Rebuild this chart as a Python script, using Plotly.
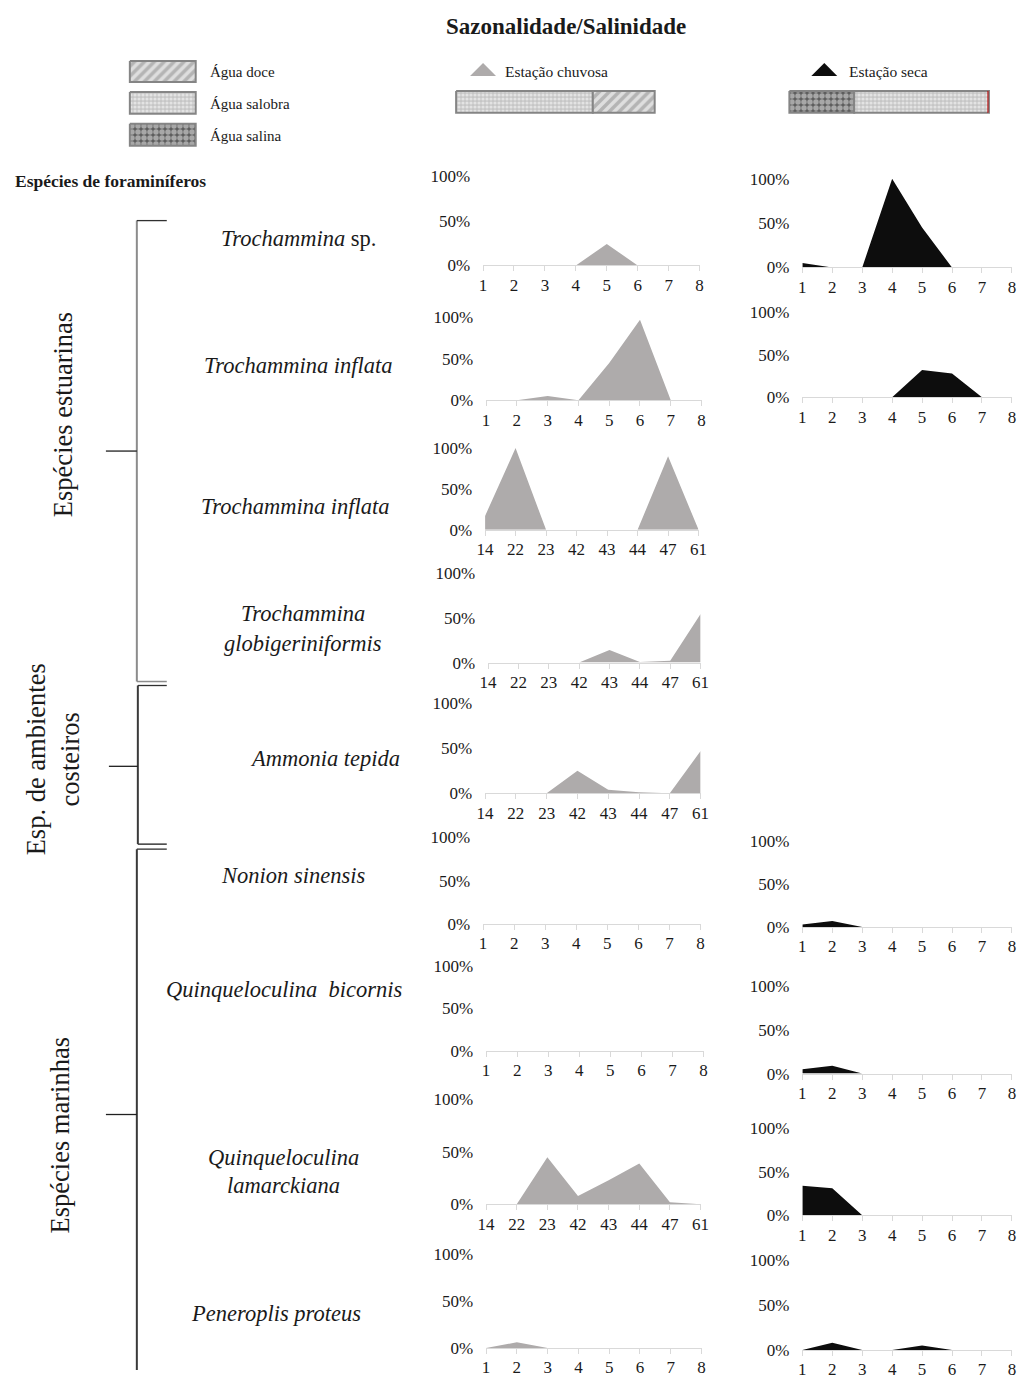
import plotly.graph_objects as go

# Figura 1024x1380; a página acrescenta 8 px de margem e é reduzida para caber na janela
W, H = 1024, 1380
BORDA = 8
SX = (W + 2 * BORDA) / W
SY = (H + 2 * BORDA) / H

# Categorias dos eixos x
estacoes = ["1", "2", "3", "4", "5", "6", "7", "8"]
pontos = ["14", "22", "23", "42", "43", "44", "47", "61"]

# Abundância relativa (%) - estação chuvosa
chuvosa_trochammina_sp = [0, 0, 0, 0, 24, 0, 0, 0]
chuvosa_inflata_estacoes = [0, 0, 5, 0, 45, 97, 0, 0]
chuvosa_inflata_pontos = [17, 100, 0, 0, 0, 0, 90, 0]
chuvosa_globigeriniformis = [0, 0, 0, 0, 14, 0.5, 2, 54]
chuvosa_ammonia = [0, 0, 0, 25, 4, 1, 0, 47]
chuvosa_nonion = [0, 0, 0, 0, 0, 0, 0, 0]
chuvosa_bicornis = [0, 0, 0, 0, 0, 0, 0, 0]
chuvosa_lamarckiana = [0, 0, 45, 8, 23, 39, 2, 0]
chuvosa_peneroplis = [0, 6, 0, 0, 0, 0, 0, 0]

# Abundância relativa (%) - estação seca
seca_trochammina_sp = [5, 0, 0, 100, 45, 0, 0, 0]
seca_inflata = [0, 0, 0, 0, 32, 28, 0, 0]
seca_nonion = [3, 7, 0, 0, 0, 0, 0, 0]
seca_bicornis = [5, 9, 0, 0, 0, 0, 0, 0]
seca_lamarckiana = [34, 31, 0, 0, 0, 0, 0, 0]
seca_peneroplis = [0, 8, 0, 0, 5, 0, 0, 0]

CINZA = "#aeabab"
PRETO = "#0d0d0d"
SERIF = "Liberation Serif"
TXT = "#1a1a1a"


def px_x(p):
    return (p * SX - BORDA) / W


def px_y(p):
    return 1 - (p * SY - BORDA) / H


# (valores, categorias, cor, x esquerda, x direita, y do 0%, y do 100%) em pixels da tela
paineis = [
    (chuvosa_trochammina_sp, estacoes, CINZA, 483, 700, 265, 175),
    (chuvosa_inflata_estacoes, estacoes, CINZA, 486, 702, 400, 317),
    (chuvosa_inflata_pontos, pontos, CINZA, 485, 699, 530, 448),
    (chuvosa_globigeriniformis, pontos, CINZA, 488, 701, 663, 573),
    (chuvosa_ammonia, pontos, CINZA, 485, 701, 794, 704),
    (chuvosa_nonion, estacoes, CINZA, 483, 701, 925, 838),
    (chuvosa_bicornis, estacoes, CINZA, 486, 704, 1052, 967),
    (chuvosa_lamarckiana, pontos, CINZA, 486, 701, 1206, 1101),
    (chuvosa_peneroplis, estacoes, CINZA, 486, 702, 1350, 1256),
    (seca_trochammina_sp, estacoes, PRETO, 803, 1013, 267, 178),
    (seca_inflata, estacoes, PRETO, 803, 1013, 397, 312),
    (seca_nonion, estacoes, PRETO, 803, 1013, 928, 842),
    (seca_bicornis, estacoes, PRETO, 803, 1013, 1075, 987),
    (seca_lamarckiana, estacoes, PRETO, 803, 1013, 1217, 1130),
    (seca_peneroplis, estacoes, PRETO, 803, 1013, 1352, 1262),
]

fig = go.Figure()
layout = {}

for i, (vals, cats, cor, xl, xr, y0, y1) in enumerate(paineis, start=1):
    xa = "x" if i == 1 else f"x{i}"
    ya = "y" if i == 1 else f"y{i}"
    fig.add_trace(go.Scatter(
        x=cats, y=vals, mode="lines", fill="tozeroy",
        fillcolor=cor, line=dict(color=cor, width=0),
        xaxis=xa, yaxis=ya, showlegend=False, hoverinfo="skip",
    ))
    key = "" if i == 1 else str(i)
    layout[f"xaxis{key}"] = dict(
        domain=[px_x(xl), px_x(xr)], anchor=ya, type="category",
        categoryorder="array", categoryarray=cats,
        range=[0, 7], showgrid=False, zeroline=False,
        showline=True, linecolor="#d9d9d9", linewidth=1,
        ticks="outside", ticklen=5, tickcolor="#d9d9d9",
        tickfont=dict(family=SERIF, size=17, color=TXT),
        ticklabelstandoff=-1, fixedrange=True,
    )
    layout[f"yaxis{key}"] = dict(
        domain=[px_y(y0), px_y(y1)], anchor=xa, range=[0, 100],
        showgrid=False, zeroline=False, showline=False, ticks="",
        tickvals=[0, 50, 100], ticktext=["0%", "50%", "100%"],
        tickfont=dict(family=SERIF, size=17, color=TXT),
        ticklabelstandoff=12, fixedrange=True,
    )

# Eixo auxiliar em pixels da tela para legenda, chaves e rótulos
N = len(paineis) + 1
CX, CY = f"x{N}", f"y{N}"
layout[f"xaxis{N}"] = dict(domain=[0, 1], range=[BORDA / SX, (W + BORDA) / SX],
                           visible=False, anchor=CY, fixedrange=True)
layout[f"yaxis{N}"] = dict(domain=[0, 1], range=[(H + BORDA) / SY, BORDA / SY],
                           visible=False, anchor=CX, fixedrange=True)

padroes = {
    "doce": dict(shape="/", fgcolor="#8a8a8a", bgcolor="#dedede", size=7, solidity=0.5),
    "salobra": dict(shape=".", fgcolor="#ffffff", bgcolor="#c6c6c6", size=4, solidity=0.5),
    "salina": dict(shape=".", fgcolor="#f0f0f0", bgcolor="#5e5e5e", size=6, solidity=0.65),
}


def caixa(x0, x1, y0, y1, padrao):
    fig.add_trace(go.Scatter(
        x=[x0, x1, x1, x0, x0], y=[y0, y0, y1, y1, y0], mode="lines",
        fill="toself", fillcolor="rgba(0,0,0,0)", fillpattern=padroes[padrao],
        line=dict(color="#858585", width=2),
        xaxis=CX, yaxis=CY, showlegend=False, hoverinfo="skip",
    ))


def triangulo(xc, yc, cor):
    fig.add_trace(go.Scatter(
        x=[xc - 13, xc + 13, xc, xc - 13], y=[yc + 6, yc + 6, yc - 7, yc + 6],
        mode="lines", fill="toself", fillcolor=cor, line=dict(color=cor, width=0),
        xaxis=CX, yaxis=CY, showlegend=False, hoverinfo="skip",
    ))


caixa(129, 195, 60, 81, "doce")
caixa(129, 195, 91, 113, "salobra")
caixa(129, 195, 123, 145, "salina")
caixa(456, 593, 90, 112, "salobra")
caixa(593, 655, 90, 112, "doce")
caixa(790, 855, 90, 112, "salina")
caixa(855, 990, 90, 112, "salobra")
triangulo(483, 69, CINZA)
triangulo(825, 69, PRETO)

shapes = [dict(type="line", xref=CX, yref=CY, x0=989, x1=989, y0=90, y1=112,
               line=dict(color="#c00000", width=1))]
chaves = [
    # (x vertical, y topo, y base, y meio, x meio, cor)
    (136, 220, 682, 451, 105, "#8c8c8c"),
    (137, 686, 845, 767, 108, "#3a3a3a"),
    (136, 850, 1400, 1116, 105, "#3a3a3a"),
]
for xv, yt, yb, ym, xm, cor in chaves:
    shapes.append(dict(type="line", xref=CX, yref=CY, x0=xv, x1=xv, y0=yt, y1=yb,
                       line=dict(color=cor, width=2)))
    shapes.append(dict(type="line", xref=CX, yref=CY, x0=xv, x1=166, y0=yt, y1=yt,
                       line=dict(color="#303030", width=1.3)))
    if yb < H:
        shapes.append(dict(type="line", xref=CX, yref=CY, x0=xv, x1=166, y0=yb, y1=yb,
                           line=dict(color=cor, width=1.5)))
    shapes.append(dict(type="line", xref=CX, yref=CY, x0=xm, x1=xv, y0=ym, y1=ym,
                       line=dict(color="#202020", width=1.3)))


def texto(x, y, t, size, anchor="center", angle=0, cor=TXT):
    return dict(xref=CX, yref=CY, x=x, y=y, text=t, showarrow=False,
                xanchor=anchor, yanchor="middle", textangle=angle,
                font=dict(family=SERIF, size=size, color=cor))


annotations = [
    texto(566, 25, "<b>Sazonalidade/Salinidade</b>", 23),
    texto(207, 71, "Água doce", 15, "left"),
    texto(207, 103, "Água salobra", 15, "left"),
    texto(207, 135, "Água salina", 15, "left"),
    texto(503, 71, "Estação chuvosa", 15.5, "left"),
    texto(848, 71, "Estação seca", 15.5, "left"),
    texto(12, 180, "<b>Espécies de foraminíferos</b>", 17.5, "left"),
    texto(298, 238, "<i>Trochammina</i> sp.", 22.5),
    texto(298, 365, "<i>Trochammina inflata</i>", 22.5),
    texto(295, 507, "<i>Trochammina inflata</i>", 22.5),
    texto(303, 614, "<i>Trochammina</i>", 22.5),
    texto(303, 644, "<i>globigeriniformis</i>", 22.5),
    texto(325, 759, "<i>Ammonia tepida</i>", 22.5),
    texto(293, 876, "<i>Nonion sinensis</i>", 22.5),
    texto(283, 991, "<i>Quinqueloculina  bicornis</i>", 22.5),
    texto(283, 1159, "<i>Quinqueloculina</i>", 22.5),
    texto(283, 1187, "<i>lamarckiana</i>", 22.5),
    texto(275, 1315, "<i>Peneroplis proteus</i>", 22.5),
    texto(62, 415, "Espécies estuarinas", 26.5, angle=-90),
    texto(52, 760, "Esp. de ambientes<br>costeiros", 26.5, angle=-90),
    texto(59, 1137, "Espécies marinhas", 26.5, angle=-90),
]

fig.update_layout(
    width=W, height=H, margin=dict(l=0, r=0, t=0, b=0),
    paper_bgcolor="white", plot_bgcolor="rgba(0,0,0,0)",
    hovermode=False, showlegend=False,
    shapes=shapes, annotations=annotations,
    **layout,
)

fig.write_html("out.html", config={"displayModeBar": False})
